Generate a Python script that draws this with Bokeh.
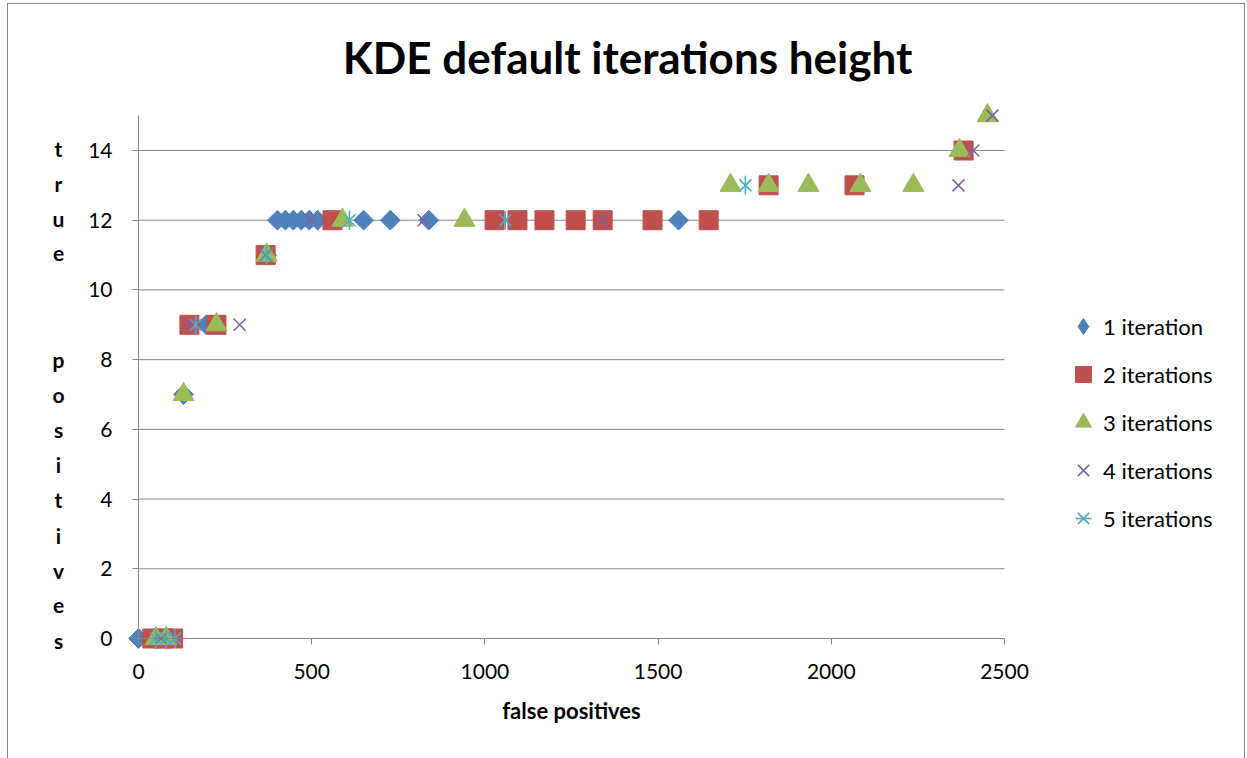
import math
from bokeh.plotting import figure
from bokeh.models import (Range1d, LinearAxis, FixedTicker, Label,
                          Legend, LegendItem, InlineStyleSheet)
from bokeh.embed import file_html
from bokeh.resources import INLINE

# ---------------- data ----------------
title_text = "KDE default iterations height"
x_title = "false positives"
y_title = "true  positives"
series_names = ["1 iteration", "2 iterations", "3 iterations", "4 iterations", "5 iterations"]
colors = ["#4F81BD", "#C0504D", "#9BBB59", "#8064A2", "#4BACC6"]

s1_x = [0, 130, 196, 370, 401, 424, 447, 470, 493, 517, 650, 727, 838, 1559]
s1_y = [0, 7, 9, 11, 12, 12, 12, 12, 12, 12, 12, 12, 12, 12]

s2_x = [40, 70, 100, 147, 225, 367, 560, 1028, 1094, 1172, 1262, 1340, 1484, 1646, 1819, 2067, 2382]
s2_y = [0, 0, 0, 9, 9, 11, 12, 12, 12, 12, 12, 12, 12, 12, 13, 13, 14]

s3_x = [50, 80, 130, 225, 370, 589, 941, 1709, 1819, 1934, 2084, 2237, 2370, 2451]
s3_y = [0, 0, 7, 9, 11, 12, 12, 13, 13, 13, 13, 13, 14, 15]

s4_x = [65, 105, 145, 292, 367, 497, 823, 1337, 2367, 2410, 2465]
s4_y = [0, 0, 9, 9, 11, 12, 12, 12, 13, 14, 15]

s5_x = [50, 80, 105, 165, 370, 609, 1059, 1752]
s5_y = [0, 0, 0, 9, 11, 12, 12, 13]

x_ticks = [0, 500, 1000, 1500, 2000, 2500]
y_ticks = [0, 2, 4, 6, 8, 10, 12, 14]
x_bounds = (0, 2500)
y_bounds = (0, 15)

# ---------------- layout (pixels) ----------------
FONT = "Lato"
W, H = 1247, 758
X0_PX, X1_PX = 138, 1004      # pixel of x=0 and x=2500
Y0_PX, Y14_PX = 638, 150      # pixel of y=0 and y=14
kx = (X1_PX - X0_PX) / 2500.0
ky = (Y0_PX - Y14_PX) / 14.0
xr = Range1d(-X0_PX / kx, (W - X0_PX) / kx)
yr = Range1d(-(H - Y0_PX) / ky, Y0_PX / ky)

def px_to_x(px):
    return (px - X0_PX) / kx

def py_to_y(py):
    return (Y0_PX - py) / ky

p = figure(width=W, height=H, x_range=xr, y_range=yr, output_backend="svg",
           toolbar_location=None, x_axis_location=None, y_axis_location=None,
           min_border=0)
p.outline_line_color = None
p.xgrid.visible = False
p.ygrid.visible = False
p.background_fill_color = "white"
p.border_fill_color = "white"

p.stylesheets = [InlineStyleSheet(css="""
:host { position: relative; }
:host::after { content: ''; position: absolute; left: 7px; top: 3px; width: 1236px; height: 754px;
  border: 1px solid #868686; pointer-events: none; box-sizing: content-box; }
""")]

axis_color = "#868686"

# horizontal gridlines at the y ticks, spanning the x axis extent
grid_y = [t for t in y_ticks if t != 0]
p.segment(x0=[x_bounds[0]] * len(grid_y), x1=[x_bounds[1]] * len(grid_y),
          y0=grid_y, y1=grid_y, line_color=axis_color, line_width=1)

xaxis = LinearAxis(fixed_location=0, bounds=x_bounds, ticker=FixedTicker(ticks=x_ticks),
                   axis_label=x_title)
yaxis = LinearAxis(fixed_location=0, bounds=y_bounds, ticker=FixedTicker(ticks=y_ticks))
for ax in (xaxis, yaxis):
    ax.axis_line_color = axis_color
    ax.major_tick_line_color = axis_color
    ax.major_tick_out = 6
    ax.major_tick_in = 0
    ax.minor_tick_line_color = None
    ax.major_label_text_font = FONT
    ax.major_label_text_font_size = "21px"
    ax.major_label_text_color = "#000000"
xaxis.major_label_standoff = 19
yaxis.major_label_standoff = 20
xaxis.axis_label_text_font = FONT
xaxis.axis_label_text_font_size = "22px"
xaxis.axis_label_text_font_style = "bold"
xaxis.axis_label_text_color = "#000000"
xaxis.axis_label_standoff = 15
p.add_layout(xaxis, "below")
p.add_layout(yaxis, "left")

# ---------------- series ----------------
# a diamond-shaped renderer (hidden under the rotated squares) that supplies the legend glyph
r1_leg = p.scatter(s1_x, s1_y, marker="diamond", size=17,
                   fill_color=colors[0], line_color=colors[0])
r1 = p.scatter(s1_x, s1_y, marker="square", angle=math.pi / 4, size=14,
               fill_color=colors[0], line_color=colors[0])
r2 = p.scatter(s2_x, s2_y, marker="square", size=19,
               fill_color=colors[1], line_color=colors[1])
r3 = p.scatter(s3_x, s3_y, marker="triangle", size=21,
               fill_color=colors[2], line_color=colors[2])
r4 = p.scatter(s4_x, s4_y, marker="x", size=17, line_color=colors[3], line_width=1.6)
r5a = p.scatter(s5_x, s5_y, marker="x", size=17, line_color=colors[4], line_width=1.6)
r5b = p.scatter(s5_x, s5_y, marker="dash", angle=math.pi / 2, size=19,
                line_color=colors[4], line_width=1.6)

legend = Legend(items=[
    LegendItem(label=series_names[0], renderers=[r1_leg]),
    LegendItem(label=series_names[1], renderers=[r2]),
    LegendItem(label=series_names[2], renderers=[r3]),
    LegendItem(label=series_names[3], renderers=[r4]),
    LegendItem(label=series_names[4], renderers=[r5a, r5b]),
], location=(1063, H - 538))
legend.glyph_width = 40
legend.glyph_height = 40
legend.label_height = 20
legend.spacing = 8
legend.padding = 0
legend.margin = 0
legend.label_standoff = 0
legend.label_text_font = FONT
legend.label_text_font_size = "22px"
legend.label_text_color = "#000000"
legend.border_line_color = None
legend.background_fill_alpha = 0
p.add_layout(legend)

# ---------------- title and stacked y title ----------------
p.add_layout(Label(x=px_to_x(627), y=py_to_y(56), text=title_text,
                   text_align="center", text_baseline="middle",
                   text_font=FONT, text_font_size="44px", text_font_style="bold",
                   text_color="#000000"))

step = (640 - 148) / (len(y_title) - 1)
for i, ch in enumerate(y_title):
    if ch.strip():
        p.add_layout(Label(x=px_to_x(58), y=py_to_y(148 + i * step), text=ch,
                           text_align="center", text_baseline="middle",
                           text_font=FONT, text_font_size="21px",
                           text_font_style="bold", text_color="#000000"))

open("out.html", "w").write(file_html(p, INLINE))
